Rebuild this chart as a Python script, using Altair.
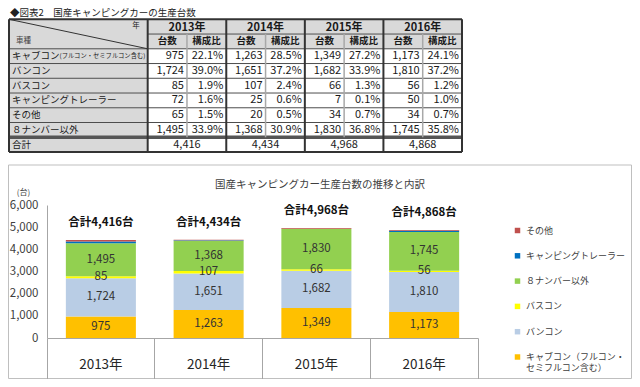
import altair as alt
import pandas as pd

# ---------------- data ----------------
years = ["2013年", "2014年", "2015年", "2016年"]
categories = ["キャブコン（フルコン・セミフルコン含む）", "バンコン", "バスコン",
              "キャンピングトレーラー", "その他", "８ナンバー以外"]
counts = [
    [975, 1263, 1349, 1173],
    [1724, 1651, 1682, 1810],
    [85, 107, 66, 56],
    [72, 25, 7, 50],
    [65, 20, 34, 34],
    [1495, 1368, 1830, 1745],
]
shares = [
    [22.1, 28.5, 27.2, 24.1],
    [39.0, 37.2, 33.9, 37.2],
    [1.9, 2.4, 1.3, 1.2],
    [1.6, 0.6, 0.1, 1.0],
    [1.5, 0.5, 0.7, 0.7],
    [33.9, 30.9, 36.8, 35.8],
]
totals = [4416, 4434, 4968, 4868]
sub_headers = ["台数", "構成比"]
stack_order = [0, 1, 2, 5, 3, 4]      # bottom -> top in the bars
labeled = [0, 1, 2, 5]                # segments that carry a value label
y_ticks = [0, 1000, 2000, 3000, 4000, 5000, 6000]
table_title = "◆図表2　国産キャンピングカーの生産台数"
chart_title = "国産キャンピングカー生産台数の推移と内訳"

# ---------------- styles ----------------
JP = "Noto Sans CJK JP"
seg_colors = {0: "#FFC000", 1: "#B9CDE5", 2: "#FFFF00",
              5: "#92D050", 3: "#0070C0", 4: "#C0504D"}
GRAY = "#d9d9d9"

# ---------------- table ----------------
XL = -3.53
tx = alt.Scale(domain=[XL, 8], range=[1, 454], nice=False, zero=False)
ty = alt.Scale(domain=[0, 9], range=[11.3, 144], nice=False, zero=False)

cells = [dict(x0=XL, x1=0, y0=0, y1=2)]
for j in range(4):
    cells.append(dict(x0=2 * j, x1=2 * j + 2, y0=0, y1=1))
    for k in range(2):
        cells.append(dict(x0=2 * j + k, x1=2 * j + k + 1, y0=1, y1=2))
for r in range(2, 9):
    cells.append(dict(x0=XL, x1=0, y0=r, y1=r + 1))
cells_df = pd.DataFrame(cells)

lines = []
D, M, L = "#333333", "#4d4d4d", "#a8a8a8"
lines.append(dict(x0=XL, x1=8, y0=0, y1=0, w=2, c=D))
lines.append(dict(x0=0, x1=8, y0=1, y1=1, w=1, c=M))
for r in range(2, 8):
    lines.append(dict(x0=XL, x1=8, y0=r, y1=r, w=1, c=M))
lines.append(dict(x0=XL, x1=8, y0=8, y1=8, w=3.5, c="#555555"))
lines.append(dict(x0=XL, x1=8, y0=9, y1=9, w=2, c=D))
lines.append(dict(x0=XL, x1=XL, y0=0, y1=9, w=2, c=D))
for j in range(5):
    lines.append(dict(x0=2 * j, x1=2 * j, y0=0, y1=9, w=2, c=D))
for j in range(4):
    lines.append(dict(x0=2 * j + 1, x1=2 * j + 1, y0=1, y1=8, w=1.5, c=L))
lines.append(dict(x0=XL, x1=0, y0=0, y1=2, w=1, c=D))
lines_df = pd.DataFrame(lines)

def X_t(f):
    return alt.X(f, type="quantitative", scale=tx, axis=None)

def Y_t(f):
    return alt.Y(f, type="quantitative", scale=ty, axis=None)

t_rect = alt.Chart(cells_df).mark_rect(fill=GRAY).encode(
    x=X_t("x0"), x2="x1:Q", y=Y_t("y0"), y2="y1:Q")
t_lines = alt.Chart(lines_df).mark_rule().encode(
    x=X_t("x0"), x2="x1:Q", y=Y_t("y0"), y2="y1:Q",
    strokeWidth=alt.StrokeWidth("w:Q", scale=None),
    color=alt.Color("c:N", scale=None))

year_hdr = pd.DataFrame([dict(x=2 * j + 1, y=0.5, t=yr) for j, yr in enumerate(years)])
sub_hdr = pd.DataFrame([dict(x=2 * j + k + 0.5, y=1.5, t=sub_headers[k])
                        for j in range(4) for k in range(2)])
cat_main, cat_note = [], []
for c in categories:
    if "（" in c:
        a, b = c.split("（", 1)
        cat_main.append(a)
        cat_note.append("(" + b.rstrip("）") + ")")
    else:
        cat_main.append(c)
        cat_note.append("")
cat_df = pd.DataFrame([dict(x=XL, y=r + 2.5, t=cat_main[r]) for r in range(6)]
                      + [dict(x=XL, y=8.5, t="合計")])
note_df = pd.DataFrame([dict(x=XL, y=r + 2.5, t=cat_note[r]) for r in range(6) if cat_note[r]])
num_rows = []
for r in range(6):
    for j in range(4):
        num_rows.append(dict(x=2 * j + 1, y=r + 2.5, t=f"{counts[r][j]:,}"))
        num_rows.append(dict(x=2 * j + 2, y=r + 2.5, t=f"{shares[r][j]:.1f}%"))
num_df = pd.DataFrame(num_rows)
tot_tbl = pd.DataFrame([dict(x=2 * j + 1, y=8.5, t=f"{v:,}") for j, v in enumerate(totals)])
corner_df = pd.DataFrame([dict(x=0, y=0.5, t="年")])
corner2_df = pd.DataFrame([dict(x=XL, y=1.5, t="車種")])

def ttext(df, **kw):
    base = dict(font=JP, color="#1a1a1a", baseline="middle")
    base.update(kw)
    return alt.Chart(df).mark_text(**base).encode(x=X_t("x"), y=Y_t("y"), text="t:N")

table = alt.layer(
    t_rect, t_lines,
    ttext(year_hdr, fontSize=11, fontWeight="bold", dy=1),
    ttext(sub_hdr, fontSize=9.5, fontWeight="bold"),
    ttext(cat_df, fontSize=9.5, align="left", dx=3),
    ttext(note_df, fontSize=6.3, align="left", dx=3 + 5 * 9.5),
    ttext(num_df, fontSize=11, align="right", dx=-3),
    ttext(tot_tbl, fontSize=11),
    ttext(corner_df, fontSize=7.5, align="right", dx=-8, dy=-1),
    ttext(corner2_df, fontSize=7.5, align="left", dx=7, color="#444444"),
)

# ---------------- stacked bar chart ----------------
rows = []
for s, ci in enumerate(stack_order):
    for j, yr in enumerate(years):
        rows.append(dict(year=yr, cat=categories[ci], value=counts[ci][j], s=s,
                         lab=ci in labeled))
bar_df = pd.DataFrame(rows)
tot_df = pd.DataFrame(dict(year=years, total=totals))

legend_order = [categories[i] for i in reversed(stack_order)]
legend_colors = [seg_colors[i] for i in reversed(stack_order)]

xs = alt.Scale(domain=years, range=[39, 470], paddingInner=0, paddingOuter=0)
ys = alt.Scale(domain=[0, 6000], range=[330, 197], nice=False, zero=True)
xaxis = alt.Axis(title=None, orient="bottom", offset=-41, domainColor="#a6a6a6",
                 tickColor="#a6a6a6", tickSize=41, tickWidth=1, bandPosition=1,
                 tickExtra=True, labelPadding=-22, labelAngle=0,
                 labelFontSize=13.5, labelFont=JP, labelColor="#262626", grid=False,
                 labelBaseline="top", zindex=1)
yaxis = alt.Axis(values=y_ticks, format=",.0f", offset=-39, ticks=False, grid=False,
                 domainColor="#a6a6a6", labelPadding=9, labelFontSize=11.5, labelFont=JP,
                 labelColor="#404040", labelFlush=False, labelOverlap=False,
                 title="(台)", titleAngle=0, titleX=-24, titleY=184, titleFontSize=8,
                 titleFont=JP, titleFontWeight="normal", titleColor="#404040",
                 titleAlign="center", titleBaseline="middle", zindex=1)
X = alt.X("year:N", scale=xs, axis=xaxis, sort=years)

legend = alt.Legend(title=None, orient="none", legendX=505, legendY=218, padding=0,
                    direction="vertical", symbolType="square", symbolSize=30,
                    symbolStrokeWidth=0, labelFont=JP, labelFontSize=9,
                    labelColor="#404040", labelOffset=4, rowPadding=15.3, labelLimit=300,
                    labelExpr="length(datum.label) > 12 ? [substring(datum.label, 0, 11), substring(datum.label, 11)] : datum.label")

base = alt.Chart(bar_df).transform_stack(
    stack="value", groupby=["year"], sort=[alt.SortField("s", order="ascending")],
    as_=["v0", "v1"])
bars = base.mark_bar(width={"band": 0.65}).encode(
    x=X, y=alt.Y("v0:Q", scale=ys, axis=yaxis), y2="v1:Q",
    color=alt.Color("cat:N", scale=alt.Scale(domain=legend_order, range=legend_colors),
                    legend=legend))
seg_labels = base.transform_filter("datum.lab").transform_calculate(
    mid="(datum.v0 + datum.v1) / 2").mark_text(
    font=JP, fontSize=11.5, color="#333333", baseline="middle").encode(
    x=X, y=alt.Y("mid:Q", scale=ys, axis=yaxis), text=alt.Text("value:Q", format=","))
tot_labels = alt.Chart(tot_df).transform_calculate(
    lbl="'合計' + format(datum.total, ',') + '台'").mark_text(
    font=JP, fontSize=11.5, fontWeight="bold", color="#111111", baseline="middle",
    dy=-17).encode(x=X, y=alt.Y("total:Q", scale=ys, axis=yaxis), text="lbl:N")
barchart = alt.layer(bars, seg_labels, tot_labels)

# ---------------- frame, titles ----------------
one = pd.DataFrame({"t": [""]})
frame = alt.Chart(one).mark_rect(fillOpacity=0, stroke="#bfbfbf", strokeWidth=1).encode(
    x=alt.value(0.5), x2=alt.value(623.5), y=alt.value(157), y2=alt.value(370.5))
title1 = alt.Chart(pd.DataFrame({"t": [table_title]})).mark_text(
    font=JP, fontSize=9.5, align="left", baseline="middle", color="#222222").encode(
    text="t:N", x=alt.value(2), y=alt.value(5.2))
title2 = alt.Chart(pd.DataFrame({"t": [chart_title]})).mark_text(
    font=JP, fontSize=10.5, align="center", baseline="middle", color="#404040").encode(
    text="t:N", x=alt.value(312), y=alt.value(177))

chart = alt.layer(frame, table, barchart, title1, title2).resolve_scale(
    x="independent", y="independent", color="independent", strokeWidth="independent"
).properties(width=624, height=371, padding=0, autosize="none").configure_view(stroke=None)

chart.save("out.html", embed_options={"renderer": "svg", "actions": False})
